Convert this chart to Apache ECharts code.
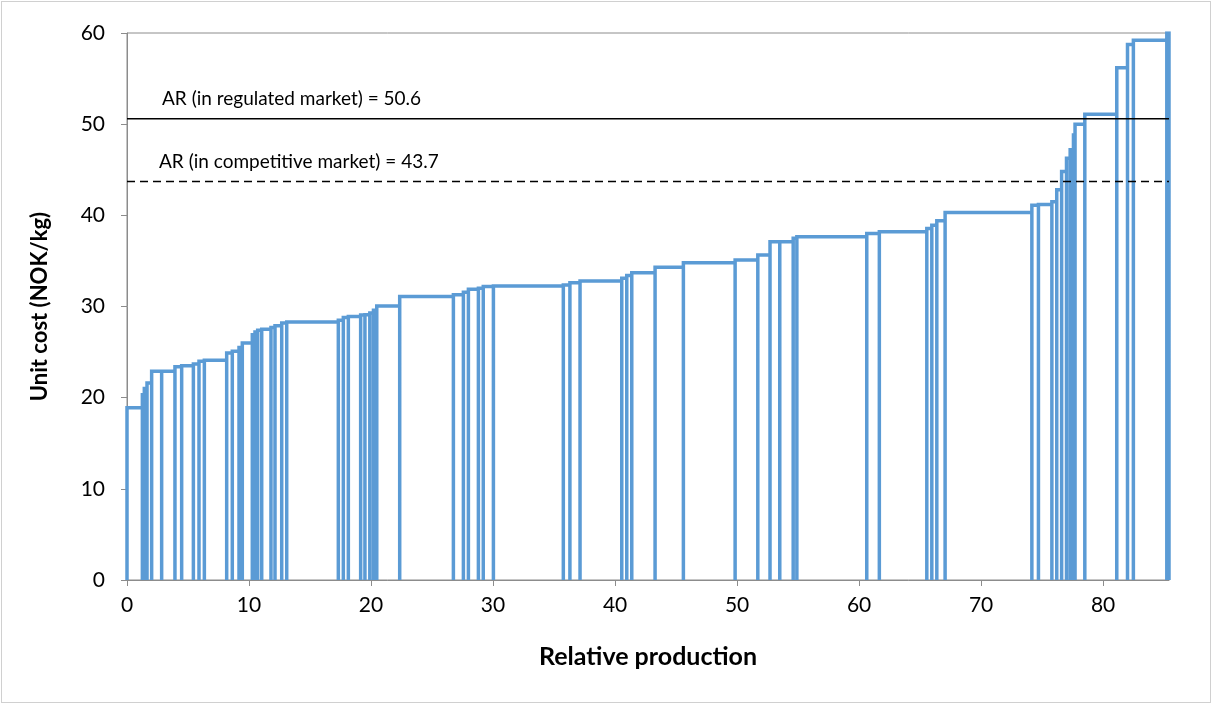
<!DOCTYPE html>
<html>
<head>
<meta charset="utf-8">
<script src="https://cdn.jsdelivr.net/npm/echarts@6/dist/echarts.min.js"></script>
<style>
  html, body { margin: 0; padding: 0; background: #ffffff; }
  #frame { position: absolute; left: 1px; top: 1px; width: 1208px; height: 700px; border: 1px solid #d0d0d0; }
  #chart { position: absolute; left: 0; top: 0; width: 1212px; height: 704px; }
</style>
</head>
<body>
<div id="frame"></div>
<div id="chart"></div>
<script>
// Right edge of each producer on the cumulative production axis
const stepEnds = [
  1.26, 1.42, 1.64, 2.02, 2.84, 3.93, 4.48, 5.44, 5.90, 6.34,
  8.17, 8.63, 9.18, 9.45, 10.27, 10.49, 10.71, 11.04, 11.80, 12.13,
  12.68, 13.09, 17.32, 17.73, 18.14, 19.15, 19.50, 19.90, 20.20, 20.47,
  22.35, 26.75, 27.57, 27.98, 28.80, 29.20, 30.03, 35.76, 36.30, 37.13,
  40.55, 40.96, 41.37, 43.28, 45.60, 49.84, 51.70, 52.70, 53.50, 54.60,
  54.90, 60.63, 61.66, 65.55, 65.96, 66.37, 67.05, 74.16, 74.70, 75.80,
  76.20, 76.60, 77.00, 77.30, 77.57, 77.70, 78.50, 81.12, 82.00, 82.48,
  85.22, 85.40
];
// Unit cost of each producer (NOK/kg)
const unitCosts = [
  18.9, 20.5, 21.0, 21.6, 22.9, 22.9, 23.4, 23.5, 23.7, 24.0,
  24.1, 24.9, 25.1, 25.5, 26.0, 26.9, 27.2, 27.4, 27.5, 27.7,
  27.9, 28.2, 28.3, 28.5, 28.8, 28.9, 29.07, 29.1, 29.3, 29.6,
  30.05, 31.1, 31.3, 31.55, 31.9, 32.0, 32.2, 32.25, 32.35, 32.6,
  32.8, 33.1, 33.4, 33.7, 34.3, 34.8, 35.1, 35.65, 37.1, 37.1,
  37.5, 37.65, 38.0, 38.2, 38.55, 38.9, 39.4, 40.3, 41.1, 41.2,
  41.5, 42.8, 44.8, 46.25, 47.2, 49.0, 50.0, 51.1, 56.2, 58.75,
  59.2, 60.0
];
// Average revenue levels (NOK/kg)
const arRegulated = 50.6;
const arCompetitive = 43.7;
const xTicks = [0, 10, 20, 30, 40, 50, 60, 70, 80];
const yTicks = [0, 10, 20, 30, 40, 50, 60];

// Outline every producer as a rectangle: up, across, down
const outline = [];
let start = 0;
stepEnds.forEach((end, i) => {
  const h = unitCosts[i];
  outline.push([start, 0], [start, h], [end, h], [end, 0]);
  start = end;
});
const xMax = stepEnds[stepEnds.length - 1];

const fontFamily = 'Lato, "Open Sans", sans-serif';
const chart = echarts.init(document.getElementById('chart'), null, { renderer: 'canvas' });

function refLine(value, dashed, text, dy) {
  return {
    type: 'line',
    data: [[0, value], [xMax, value]],
    symbol: 'none',
    silent: true,
    z: 5,
    lineStyle: { color: '#000000', width: 1.5, type: dashed ? [8, 5] : 'solid' },
    label: { show: false },
    markPoint: {
      symbol: 'rect', symbolSize: 0,
      silent: true,
      data: [{ coord: [0, value] }],
      label: {
        show: true,
        position: 'right',
        offset: [dy[0], dy[1]],
        formatter: text + ' = ' + value,
        color: '#000000',
        fontFamily: fontFamily,
        fontSize: 19
      }
    }
  };
}

chart.setOption({
  animation: false,
  backgroundColor: 'transparent',
  grid: {
    left: 127, top: 33, width: 1042, height: 547,
    show: true, borderColor: '#8c8c8c', borderWidth: 1,
    outerBoundsMode: 'none'
  },
  xAxis: {
    type: 'value',
    min: 0, max: xMax, interval: 10,
    name: 'Relative production',
    nameLocation: 'middle',
    nameGap: 64,
    nameTextStyle: { color: '#000000', fontFamily: fontFamily, fontSize: 25, fontWeight: 'bold' },
    axisLine: { show: true, lineStyle: { color: '#8c8c8c', width: 1 } },
    axisTick: { show: true, length: 6, lineStyle: { color: '#8c8c8c' }, customValues: xTicks },
    axisLabel: {
      color: '#000000', fontFamily: fontFamily, fontSize: 21, margin: 15,
      customValues: xTicks
    },
    splitLine: { show: false }
  },
  yAxis: {
    type: 'value',
    min: 0, max: 60, interval: 10,
    name: 'Unit cost (NOK/kg)',
    nameLocation: 'middle',
    nameGap: 76,
    nameTextStyle: { color: '#000000', fontFamily: fontFamily, fontSize: 22, fontWeight: 'bold' },
    axisLine: { show: true, lineStyle: { color: '#8c8c8c', width: 1 } },
    axisTick: { show: true, length: 6, lineStyle: { color: '#8c8c8c' }, customValues: yTicks },
    axisLabel: { color: '#000000', fontFamily: fontFamily, fontSize: 21, margin: 22, customValues: yTicks },
    splitLine: { show: false }
  },
  series: [
    {
      type: 'line',
      data: outline,
      symbol: 'none',
      clip: true,
      z: 3,
      lineStyle: { color: '#5B9BD5', width: 3.5, join: 'miter' }
    },
    refLine(arRegulated, false, 'AR (in regulated market)', [30, -20]),
    refLine(arCompetitive, true, 'AR (in competitive market)', [27, -20])
  ]
});
</script>
</body>
</html>
